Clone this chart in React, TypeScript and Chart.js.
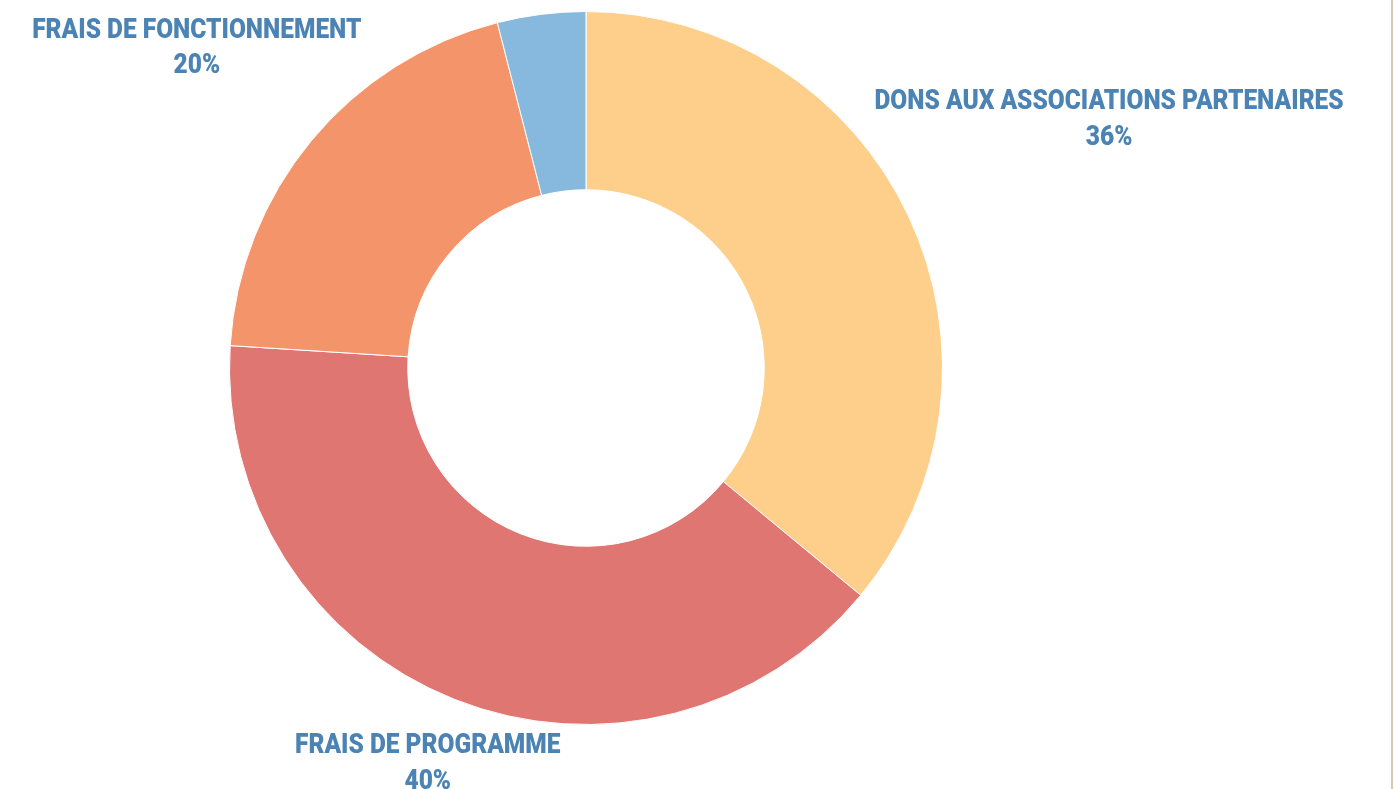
import React, { useEffect, useRef } from "react";
import { Chart, registerables } from "chart.js";

Chart.register(...registerables);

const categories = [
  "DONS AUX ASSOCIATIONS PARTENAIRES",
  "FRAIS DE PROGRAMME",
  "FRAIS DE FONCTIONNEMENT",
  "AUTRES",
];
const values = [36, 40, 20, 4];
const percentLabels = ["36%", "40%", "20%", ""];
const showLabel = [true, true, true, false];
const colors = ["#FECF8B", "#E07672", "#F4946A", "#87B9DE"];

// per-label offsets from the slice's outer mid-point (style only)
const labelOffsets = [
  { dx: 200.5, dy: -107 },
  { dx: -27, dy: 54 },
  { dx: -114.5, dy: -103 },
  { dx: 0, dy: 0 },
];

const labelPlugin = {
  id: "sliceLabels",
  afterDraw(chart: any) {
    const ctx = chart.ctx;
    const meta = chart.getDatasetMeta(0);
    const scaleX = 0.875;
    ctx.save();
    ctx.fillStyle = "#4A83B4";
    ctx.font = "900 28px Roboto";
    ctx.textAlign = "center";
    ctx.textBaseline = "alphabetic";
    meta.data.forEach((arc: any, i: number) => {
      if (!showLabel[i]) return;
      const p = arc.getProps(["x", "y", "startAngle", "endAngle", "outerRadius"], true);
      const mid = (p.startAngle + p.endAngle) / 2;
      const ax = p.x + Math.cos(mid) * p.outerRadius + labelOffsets[i].dx;
      const ay = p.y + Math.sin(mid) * p.outerRadius + labelOffsets[i].dy;
      ctx.save();
      ctx.translate(ax, ay);
      ctx.scale(scaleX, 1);
      ctx.fillText(chart.data.labels[i], 0, 0);
      ctx.fillText(percentLabels[i], 0, 35.5);
      ctx.restore();
    });
    ctx.restore();
  },
};

export default function App() {
  const ref = useRef<HTMLCanvasElement | null>(null);
  useEffect(() => {
    if (!ref.current) return;
    const chart = new Chart(ref.current, {
      type: "doughnut",
      data: {
        labels: categories,
        datasets: [
          {
            data: values,
            backgroundColor: colors,
            borderColor: "#ffffff",
            borderWidth: 1,
          },
        ],
      },
      options: {
        animation: false,
        responsive: true,
        maintainAspectRatio: false,
        cutout: "50%",
        layout: { padding: { left: 229, right: 451, top: 11, bottom: 64 } },
        plugins: {
          legend: { display: false },
          tooltip: { enabled: false },
        },
      },
      plugins: [labelPlugin],
    });
    return () => chart.destroy();
  }, []);
  return (
    <div style={{ position: "absolute", left: 0, top: 0, width: 1394, height: 789, background: "#ffffff" }}>
      <div style={{ position: "absolute", left: 0, top: 0, width: 1394, height: 789 }}>
        <canvas ref={ref} />
      </div>
      <div style={{ position: "absolute", left: 1391, top: 0, width: 2, height: 789, background: "#DCC9AE" }} />
    </div>
  );
}
